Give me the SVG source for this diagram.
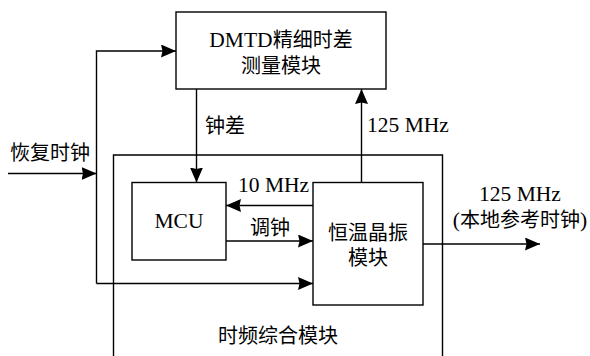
<svg xmlns="http://www.w3.org/2000/svg" width="590" height="356" viewBox="0 0 590 356">
  <defs>
    <marker id="arrow" markerUnits="userSpaceOnUse" markerWidth="15" markerHeight="13" refX="15" refY="6.5" orient="auto">
      <path d="M0,0 L15,6.5 L0,13 L1.5,6.5 z" fill="#000"/>
    </marker>
    <style>
      .box { fill: none; stroke: #000; stroke-width: 1.4; }
      .wire { fill: none; stroke: #000; stroke-width: 1.4; }
      .arr { marker-end: url(#arrow); }
      text { font-family: "Liberation Serif", "Noto Sans CJK SC", serif; font-size: 20px; fill: #000; }
      .lat { font-size: 21.5px; }
      .c { text-anchor: middle; }
    </style>
  </defs>
  <rect width="590" height="356" fill="#fff"/>

  <!-- outer frame: time-frequency module (open at the bottom) -->
  <g id="freq-module">
    <path class="box" d="M113.5,356 V155 H442.5 V356"/>
    <text class="c" x="278" y="343">时频综合模块</text>
  </g>

  <g id="dmtd">
    <rect class="box" x="176" y="12" width="210" height="77"/>
    <text class="c" x="281" y="47"><tspan class="lat">DMTD</tspan>精细时差</text>
    <text class="c" x="281" y="73">测量模块</text>
  </g>

  <g id="mcu">
    <rect class="box" x="132" y="182.5" width="94" height="77.5"/>
    <text class="c lat" x="179" y="228">MCU</text>
  </g>

  <g id="ocxo">
    <rect class="box" x="313" y="182.5" width="110" height="122.5"/>
    <text class="c" x="368" y="240">恒温晶振</text>
    <text class="c" x="368" y="265">模块</text>
  </g>

  <g id="connectors">
    <!-- recovered clock input, split to DMTD and OCXO -->
    <line class="wire arr" x1="8" y1="173.5" x2="96.5" y2="173.5"/>
    <path class="wire arr" d="M96.5,283.5 V51 H176"/>
    <line class="wire arr" x1="96.5" y1="283.5" x2="313" y2="283.5"/>
    <!-- clock difference -->
    <line class="wire arr" x1="196.5" y1="89" x2="196.5" y2="182.5"/>
    <!-- 125 MHz back to DMTD -->
    <line class="wire arr" x1="361.5" y1="182.5" x2="361.5" y2="89"/>
    <!-- 10 MHz to MCU -->
    <line class="wire arr" x1="313" y1="205.5" x2="226" y2="205.5"/>
    <!-- tuning -->
    <line class="wire arr" x1="226" y1="241" x2="313" y2="241"/>
    <!-- local reference output -->
    <line class="wire arr" x1="423" y1="244" x2="540" y2="244"/>
  </g>

  <g id="labels">
    <text x="10" y="160">恢复时钟</text>
    <text x="205" y="133">钟差</text>
    <text class="lat" x="367" y="132">125 MHz</text>
    <text class="lat" x="238" y="192">10 MHz</text>
    <text x="250" y="235">调钟</text>
    <text class="c lat" x="520" y="201">125 MHz</text>
    <text class="c" x="520" y="227"><tspan class="lat">(</tspan>本地参考时钟<tspan class="lat">)</tspan></text>
  </g>
</svg>
